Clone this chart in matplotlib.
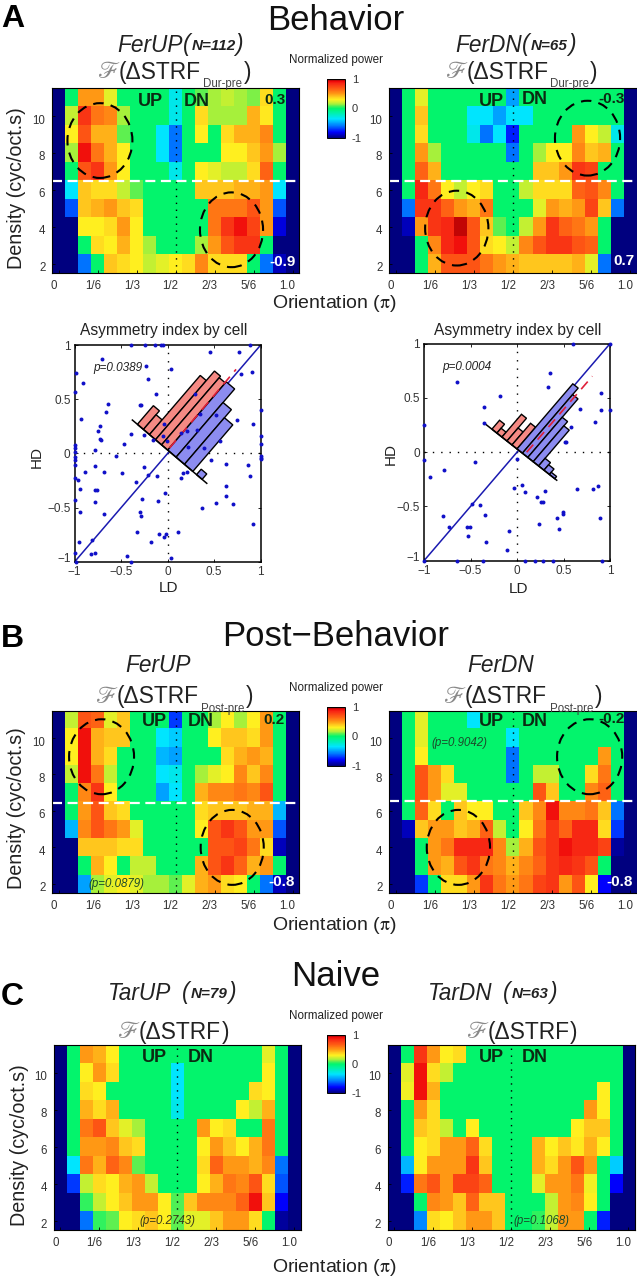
#! /usr/bin/python
# -*- coding: utf-8 -*-

import matplotlib
matplotlib.use('Agg')
import matplotlib.pyplot as plt
import numpy as np
from matplotlib.colors import LinearSegmentedColormap
from matplotlib.patches import Ellipse, Polygon
from matplotlib.transforms import ScaledTranslation

W, H = 637, 1280

plt.rcParams['font.family'] = ['Liberation Sans', 'DejaVu Sans']

# Normalized power in tenths, rows from density 11 down to density 2.
A_UP = [
    [-10, 0, 5, 5, 2.5, 0, 0, 0, 0, -3, 0, 1, 1.5, 2, 1.5, 1.2, 3.5, 0, -10],
    [-10, 2, 8, 6, 5.5, 1.5, 0, 0, 0, -3, 0, 3.5, 1.5, 1.5, 1.5, 4.5, 3.2, 0, -10],
    [-10, 3, 7, 4.5, 4.5, 1, 0, 0, -3.5, -6, 0, 3, 0, 3.5, 4.5, 4.5, 5.5, 0, -10],
    [-10, 1.5, 9, 6, 4.5, 3, 0, 0, -3.5, -6, 0, 0, 0, 3, 3, 4, 5, 1.5, -10],
    [-10, 0, 7, 8, 5, 3, 0, 0, 0, -3, 0, 3, 2.5, 2, 2, 3.5, 6.5, 0, -10],
    [-10, -3.5, 4, 3.5, 3.5, 2, 1, 0, 0, 0, 0, 4, 4, 4, 4.5, 4.5, 5, -3.5, -10],
    [-10, -6.5, 4, 4.5, 5, 4, 3.5, 0, 0, 0, 0, 0, 6, 6, 6, 7, 5, -6.5, -10],
    [-10, -10, 3, 3, 3.5, 5, 3, 0, 0, 0, 0, 0, 6, 8, 9, 7.5, 5, -8.5, -10],
    [-10, -10, 0, 3.5, 3, 4.5, 3, 1.5, 0, 0, 0, 1.5, 5, 7, 8, 8, 0, -10, -10],
    [-10, -10, -6, 0, 4, 3.5, 3, 2, 2.5, 3, 3.5, 5.5, 3.5, 3.5, 3.5, 0, -6, -9, -10],
]
A_DN = [
    [-10, 0, 2.5, 0, 0, 0, 0, 0, 0, -5, 0, 0, 0, 0, 0, 0, 0, 0, -10],
    [-10, 0, 4, 0, 0, 0, -3.5, -3.5, -5, -3.5, -3.5, 0, 0, 0, 0, 0, 0, 0, -10],
    [-10, 0, 3.5, 0, 0, 0, -3, -6, -3.5, -7.5, 0, 0, 0, 0, 5, 3, 2, -3, -10],
    [-10, 0, 5, 1.5, 0, 0, 0, 0, 0, -6, 0, 1.5, 3, 3, 5.5, 4, 4.5, 0, -10],
    [-10, 0, 6.5, 4.5, 0, 0, 0, 0, 0, 0, 0, 4, 4, 5, 8, 7.5, 0, 0, -10],
    [-10, 0, 8.5, 6, 3, 2, 3, 3.5, 0, 0, 2, 3.5, 3.5, 3.5, 6.5, 7, 5.5, 0, -10],
    [-10, -6, 8, 8, 6.5, 5, 4.5, 6, 0, 0, 0, 2.5, 5, 4.5, 5, 7.5, 4, -6, -10],
    [-10, -9, 5, 8, 8.5, 9.5, 7, 4, 1, 0, 2, 5, 8, 6.5, 6, 5, 0, -10, -10],
    [-10, -10, 0, 5.5, 8.5, 9, 7, 3.5, 3, 2, 5.5, 7, 8, 8, 7, 6.5, 0, -10, -10],
    [-10, -10, 0, 4.5, 7, 7, 7, 6, 5, 4.5, 4, 4, 4, 4, 4.5, 2.5, -6, -10, -10],
]
B_UP = [
    [-10, 2, 7, 6.5, 2.5, 4, 0, 0, 0, -7, 0, 0, 1.5, 3, 1.5, 3, 5, 0, -10],
    [-10, 3, 9, 4.5, 4, 4, 0, 0, -3.5, -4, 0, 0, 3, 4, 4, 3.5, 5, 0, -10],
    [-10, 3, 9, 4.5, 3.5, 0, 0, 0, -4.5, -5, 0, 0, 0, 3.5, 4.5, 5, 4.5, 0, -10],
    [-10, 2, 9, 6, 2, 0, 0, 0, -3.5, -3, 0, 1.5, 2.5, 3, 5.5, 4, 5.5, 0, -10],
    [-10, 0, 5.5, 8, 3, 0, 0, 0, -5, -3.5, 0, 4.5, 5.5, 5.5, 6, 5.5, 7, 0, -10],
    [-10, 0, 5, 7, 4, 3.5, 0, 0, 0, 0, 0, 3.5, 4, 4, 4, 4.5, 4.5, -4.5, -10],
    [-10, -4.5, 5.5, 7, 6, 5, 2.5, 0, 0, 0, 0, 3, 7, 8, 7, 5, 5, -6.5, -10],
    [-10, -10, 4, 4, 4, 3.5, 3.5, 0, 0, 0, 0, 0, 7, 7, 7.5, 6, 3.5, -9, -10],
    [-10, -10, 0, 4.5, 3, 0, 2, 2, 0, 0, 0, 4.5, 7, 8, 6.5, 4.5, 5, 0, -10],
    [-10, -10, -5, 1.5, 2.5, 3, 2.5, 1.5, 1.5, 1, 2.5, 4.5, 5, 3.5, 3, 0, -6, -9, -10],
]
B_DN = [
    [-10, 0, 2.5, 0, 0, 0, -3.5, 0, 0, 0, 0, 0, 0, 0, 0, 0, 0, 0, -10],
    [-10, 0, 2.5, 0, 0, 0, 0, 0, 0, -3.5, 0, 0, 0, 0, 0, 0, 0, 0, -10],
    [-10, 0, 3, 0, 0, 0, 0, 0, 0, -6, 0, 0, 0, 0, 0, 0, 5, 0, -10],
    [-10, 0, 7, 5, 3.5, 0, 0, 0, 0, -6, 0, 2, 2, 0, 0, 3.5, 6, 0, -10],
    [-10, 0, 7, 5, 2.5, 2.5, 0, 0, 0, 0, 0, 7, 4, 0, 0, 5.5, 6.5, 0, -10],
    [-10, 0, 6.5, 3.5, 0, 4, 3, 3, 0, 0, 4, 5.5, 9, 5.5, 5.5, 6, 4, -6, -10],
    [-10, -9, 4, 5, 5, 4, 4.5, 6.5, 2, 0, 3, 6, 8, 6.5, 8.5, 8.5, 3.5, -7, -10],
    [-10, -10, 0, 5, 6, 8.5, 8.5, 8.5, 5.5, 1.5, 4.5, 7, 8, 9, 8.5, 8.5, 7.5, -9.5, -10],
    [-10, -10, 0, 5, 4.5, 7, 8, 6, 5.5, 4.5, 5.5, 6.5, 8, 8.5, 8, 7, 0, -10, -10],
    [-10, -10, -7, 0, 3.5, 3.5, 5, 8, 6, 5, 6, 7.5, 8, 5, 7, 3, -8, -10, -10],
]
C_UP = [
    [-10, 0, 5, 4.5, 3, 0, 0, 0, 0, 0, 0, 0, 0, 0, 0, 0, 2.5, 0, -10],
    [-10, 0, 3, 5, 3.5, 0, 0, 0, 0, -3.5, 0, 0, 0, 0, 0, 0, 3, 0, -10],
    [-10, 0, 3.5, 3, 0, 0, 0, 0, 0, -3.5, 0, 0, 0, 0, 0, 3.5, 3, 0, -10],
    [-10, 0, 4.5, 3.5, 4.5, 0, 0, 0, 0, -3, 0, 0, 0, 0, 3, 2, 4.5, 0, -10],
    [-10, 0, 6, 7, 4, 2.5, 1.5, 0, 0, 0, 0, 5, 3, 3.5, 0, 0, 6, 0, -10],
    [-10, 0, 5, 5, 5.5, 4, 3.5, 0, 0, 0, 0, 3, 5, 4, 3, 4.5, 6, 0, -10],
    [-10, -3.5, 6, 4.5, 6.5, 5.5, 1, 0, 0, 0, 0, 3.5, 6.5, 5, 5, 4.5, 5.5, -6, -10],
    [-10, -7, 2, 3.5, 3, 4.5, 5, 2, 0, 0, 0, 3, 4.5, 6, 5.5, 7, 3.5, -6.5, -10],
    [-10, -10, 0.5, 2, 3, 4, 5, 5, 3, 0.8, 4, 5.5, 5.5, 5.5, 6.5, 9, 4, -8, -10],
    [-10, -10, -6, 0.5, 1, 3, 3.5, 4, 3, 1, 2.5, 2.5, 4, 5, 5, 3.5, 0, -9.5, -10],
]
C_DN = [
    [-10, 0, 8, 5, 3, 3.5, 0, 0, 0, 0, 0, 0, 0, 0, 0, 0, 0, 0, -10],
    [-10, 2.5, 9, 3.5, 2, 0, 0, 0, 0, 0, 0, 0, 0, 0, 0, 0, 0, 0, -10],
    [-10, 2.8, 9, 4.5, 0, 0, 0, 0, 0, 0, 0, 0, 0, 0, 0, 0, 3, 0, -10],
    [-10, 0, 5, 3.5, 0, 0, 0, 0, 0, 0, 0, 0, 0, 0, 0, 5, 3, 0, -10],
    [-10, 0, 4, 3.5, 2, 0, 3, 0, 0, 0, 0, 0, 0, 0, 3, 4, 4, 0, -10],
    [-10, 0, 3, 3.5, 5, 5, 6.5, 3.5, 0, 0, 0, 4.5, 3, 4, 3.2, 4.5, 3, 0, -10],
    [-10, -4.5, 3, 5, 5, 5, 8, 4, 0, 0, 0, 4.5, 3.5, 5, 7, 5, 0, -4, -10],
    [-10, -7.5, 6, 7, 5, 7.5, 7.5, 6.5, 0, 0, 0, 2.5, 5, 5, 6, 2.8, 0, -8, -10],
    [-10, -10, 0, 5.5, 5, 4, 6.5, 4, 4, 0, 0, 0, 2, 5, 5.5, 3, 0, -10, -10],
    [-10, -10, -5.5, 3.5, 3, 4, 5, 5, 4, 0, 0, 0.5, 2, 5, 5, 0, -7.5, -10, -10],
]

OrientTicks = [0, 1 / 6, 1 / 3, 1 / 2, 2 / 3, 5 / 6, 1]
OrientLabels = ['0', '1/6', '1/3', '1/2', '2/3', '5/6', '1.0']
DensityTicks = [2, 4, 6, 8, 10]

# Dashed circles: orientation, density, width, height.
A_UP_Circles = [(0.176, 8.67, 0.278, 4.05), (0.739, 3.84, 0.27, 4.05)]
A_DN_Circles = [(0.818, 8.8, 0.278, 4.05), (0.26, 3.93, 0.27, 4.05)]
B_UP_Circles = [(0.183, 8.97, 0.278, 4.12), (0.742, 3.99, 0.27, 4.12)]
B_DN_Circles = [(0.827, 8.97, 0.278, 4.12), (0.267, 3.99, 0.27, 4.12)]

# Asymmetry index per cell.
LD_UP = [
    -.39, -.24, -.14, -.07, -.05, .89, .45, .77, -.71, -.23, .04, -.99, -.21, -.91, .79, .91,
    -1, -.13, .29, -.64, -.30, -.29, -.66, -.93, -.04, -.73, -.75, 1, .74, .92, -.39, -.25,
    -.05, .14, .21, .31, .35, .52, -.01, -.16, -.73, -.72, -.47, -.78, -.56, -1, -1, -1, -1,
    -1, -1, 1, 1, 1, 1, 1, .22, .39, .56, .47, .63, .86, -.26, -.78, -.68, -.89, -.49, .16,
    .21, .14, -.21, -.11, .88, -1, -.96, -.34, -.94, -.78, -.76, -.28, -.10, -.03, -1, -.78,
    -.94, -.30, -.29, -.69, .37, .52, .63, .63, .70, .92, -.33, -.09, -.04, -.02, .11, -.18,
    -.95, -.81, -.44, -.82, -.78, .04, -1, -.40, -.99,
]
HD_UP = [
    1, 1, 1, 1, 1, 1, .94, .94, .87, .81, .78, .74, .69, .65, .73, .75,
    .57, .55, .55, .46, .45, .45, .38, .32, .27, .25, .21, .40, .31, .27, .18, .17,
    .16, .19, .21, .22, .36, .35, .11, .12, .13, .12, .09, .03, -.02, .08, .05, .01, -.03,
    -.06, -.11, .16, .09, -.02, -.04, -.05, .06, .05, .11, -.06, -.10, -.11, -.13, -.12, -.17, -.17, -.18, -.18,
    -.17, -.23, -.20, -.21, -.21, -.23, -.25, -.26, -.33, -.34, -.34, -.42, -.44, -.37, -.43, -.45,
    -.54, -.54, -.58, -.56, -.50, -.46, -.39, -.30, -.47, -.65, -.73, -.74, -.77, -.74, -.73, -.82,
    -.82, -.80, -.95, -.93, -.92, -.97, -.92, -1, -1,
]
LD_DN = [
    .6, 1, .35, -.65, .33, -.18, .90, -.35, .68, .90, 1, -.36, .84, -1, .58, .52, .53, -1,
    -.45, 0, -.78, -.94, -.03, .05, .09, .30, .22, .26, .28, .64, .82, .87, -.40, -.48, .49,
    .49, .43, .89, -.80, -.34, .24, .45, -.73, -.54, -.51, -.53, -.09, -.33, -.11, -1, -.65,
    -.37, .09, .19, .28, .39, .91,
]
HD_DN = [
    1, 1, .73, .65, .60, .52, .55, .42, .40, .39, .39, .27, .28, .25, .23, .09, .09, -.07,
    -.09, -.06, -.16, -.23, -.33, -.30, -.37, -.36, -.41, -.46, -.46, -.34, -.34, -.31, -.49, -.48, -.55,
    -.57, -.61, -.61, -.59, -.58, -.66, -.71, -.69, -.69, -.69, -.77, -.73, -.83, -.90, -1, -1,
    -1, -1, -1, -1, -1, -1,
]
AsymTicks = [-1, -0.5, 0, 0.5, 1]
AsymLabels = ['\u22121', '\u22120.5', '0', '0.5', '1']

# Histograms on the tilted base: start along the base, bar width, bar height.
UP_RedStart = [-.326, -.261, -.196, -.131, -.066]
UP_RedWidth = [.065, .065, .065, .065, .066]
UP_RedHeight = [.172, .136, .546, .634, .62]
UP_BlueStart = [0, .09, .18, .31]
UP_BlueWidth = [.09, .09, .09, .06]
UP_BlueHeight = [.63, .505, .43, .05]
DN_RedStart = [-.27, -.216, -.162, -.108, -.054]
DN_RedWidth = [.054, .054, .054, .054, .054]
DN_RedHeight = [.082, .045, .21, .12, .2]
DN_BlueStart = [0, .058, .116, .174, .232, .29, .348]
DN_BlueWidth = [.058, .058, .058, .058, .058, .058, .058]
DN_BlueHeight = [.6, .54, .37, .33, .07, .05, .02]

cmap = LinearSegmentedColormap.from_list('power', [
    (0.0, '#00007f'), (0.1, '#0000ff'), (0.2, '#0073ff'), (0.325, '#00e5ff'), (0.46, '#00f58c'),
    (0.5, '#00f56e'), (0.55, '#60f050'), (0.575, '#a5f03c'), (0.65, '#fff020'), (0.7, '#ffc81e'),
    (0.75, '#ff9b14'), (0.825, '#ff6414'), (0.925, '#f82814'), (0.96, '#f00a0a'), (1.0, '#7f0000'),
])


def px_axes(fig, x0, y0, x1, y1):
    return fig.add_axes([x0 / W, 1 - y1 / H, (x1 - x0) / W, (y1 - y0) / H])


def txt(fig, x, y, s, **kw):
    kw.setdefault('va', 'center')
    return fig.text(x / W, 1 - y / H, s, **kw)


def plot_map(fig, box, values, circles, split=None):
    ax = px_axes(fig, *box)
    im = ax.imshow(np.array(values) / 10.0, cmap=cmap, vmin=-1, vmax=1, aspect='auto',
                   interpolation='nearest', extent=[-0.5 / 18, 18.5 / 18, 1.5, 11.5])
    ax.axvline(0.5, color='k', linestyle=(0, (1, 4)), linewidth=1)
    if split is not None:
        ax.axhline(split, color='white', linestyle=(0, (4.5, 2.5)), linewidth=1.6)
    for cx, cy, w, h in circles:
        ax.add_patch(Ellipse((cx, cy), w, h, fill=False, edgecolor='k',
                             linewidth=1.5, linestyle=(0, (5, 3.5))))
    ax.set_xticks(OrientTicks)
    ax.set_xticklabels(OrientLabels, fontsize=8.3, color='#333333')
    ax.set_yticks(DensityTicks)
    ax.set_yticklabels([str(d) for d in DensityTicks], fontsize=8.3, color='#333333')
    ax.tick_params(direction='in', length=2, width=0.6, pad=5)
    for label in ax.get_xticklabels():
        label.set_transform(label.get_transform() + ScaledTranslation(-5 / 100, 0, fig.dpi_scale_trans))
    for label in ax.get_yticklabels():
        label.set_transform(label.get_transform() + ScaledTranslation(0, -3 / 100, fig.dpi_scale_trans))
    for spine in ax.spines.values():
        spine.set_linewidth(0.8)
    return im


def plot_bars(ax, starts, widths, heights, slope, color):
    for t, w, h in zip(starts, widths, heights):
        y0 = 0.03 - slope * t
        y1 = 0.03 - slope * (t + w)
        corners = [(t, y0), (t + w, y1), (t + w + h, y1 + h), (t + h, y0 + h)]
        ax.add_patch(Polygon(corners, facecolor=color, edgecolor='k', linewidth=1, zorder=4))


def plot_asym(fig, box, ld, hd, red, blue, slope, base, mean):
    ax = px_axes(fig, *box)
    ax.plot([-1, 1], [-1, 1], color='#1a1ab0', linewidth=1.1, zorder=2)
    ax.axvline(0, color='k', linestyle=(0, (1, 5)), linewidth=1, zorder=1)
    ax.axhline(0, color='k', linestyle=(0, (1, 5)), linewidth=1, zorder=1)
    plot_bars(ax, red[0], red[1], red[2], slope, '#f58a84')
    plot_bars(ax, blue[0], blue[1], blue[2], slope, '#8c8cf0')
    ax.plot(base, [0.03 - slope * b for b in base], color='k', linewidth=1.1, zorder=5)
    ax.plot(mean[0], mean[1], color='#e0203a', linewidth=1.2, linestyle=(0, (6, 4)), zorder=6)
    ax.scatter(ld, hd, s=8, color='#1010c8', linewidths=0, clip_on=False, zorder=7)
    ax.set_xlim(-1, 1)
    ax.set_ylim(-1, 1)
    ax.set_xticks(AsymTicks)
    ax.set_xticklabels(AsymLabels, fontsize=8.5, color='#333333')
    ax.set_yticks(AsymTicks)
    ax.set_yticklabels(AsymLabels, fontsize=8.5, color='#333333')
    ax.tick_params(direction='in', length=2, width=0.6, pad=3, top=True, right=True)
    # The lowest HD label sits a little above its tick.
    low = ax.get_yticklabels()[0]
    low.set_transform(low.get_transform() + ScaledTranslation(0, 4 / 100, fig.dpi_scale_trans))
    for spine in ax.spines.values():
        spine.set_linewidth(1.1)


def plot_colorbar(fig, im, y0, y1):
    cax = px_axes(fig, 327, y0, 345, y1)
    cb = fig.colorbar(im, cax=cax, ticks=[-1, 0, 1])
    cb.ax.set_yticklabels(['-1', '0', '1'], fontsize=8, color='#333333')
    cb.ax.tick_params(length=0, pad=5)
    cb.outline.set_linewidth(0.7)
    txt(fig, 289, y0 - 19, 'Normalized power', fontsize=8.4, color='#222222')


def cond_title(fig, x, y, name, n_x=None, n_label=None):
    txt(fig, x, y, name, fontsize=16.3, style='italic', color='#222222')
    if n_label is not None:
        txt(fig, n_x, y, '(', fontsize=16.3, style='italic', color='#222222')
        txt(fig, n_x + 9, y + 1, n_label, fontsize=11, style='italic', weight='bold', color='#222222')
        txt(fig, n_x + 22 + 6 * len(n_label), y, ')', fontsize=16.3, style='italic', color='#222222')


def delta_title(fig, x, y, sub=None, sub_x=0, close_x=0):
    txt(fig, x, y, r'$\mathscr{F}$', fontsize=17, color='#888888', math_fontfamily='stix')
    txt(fig, x + 22, y, '(\u0394STRF', fontsize=16.4, color='#222222')
    if sub is not None:
        txt(fig, x + sub_x, y + 12, sub, fontsize=8.3, color='#444444')
    txt(fig, x + close_x, y, ')', fontsize=16.4, color='#222222')


def labels_row(fig, up_x, dn_x, y):
    txt(fig, up_x, y, 'UP', fontsize=13, weight='bold', color='#0b2a12')
    txt(fig, dn_x, y, 'DN', fontsize=13, weight='bold', color='#0b2a12')


def main():
    fig = plt.figure(figsize=(W / 100, H / 100), dpi=100, facecolor='white')
    orient = r'Orientation ($\mathrm{\pi}$)'

    # Panel A
    txt(fig, 1, 19, 'A', fontsize=23, weight='bold', color='k')
    txt(fig, 336, 21, 'Behavior', fontsize=25, ha='center', color='#111111')
    cond_title(fig, 117, 45, 'FerUP', 183, 'N=112')
    cond_title(fig, 455, 45, 'FerDN', 522, 'N=65')
    delta_title(fig, 97, 72, 'Dur-pre', 106, 147)
    delta_title(fig, 445, 72, 'Dur-pre', 105, 145)
    im = plot_map(fig, (52.3, 88.3, 299, 273), A_UP, A_UP_Circles, 6.5)
    plot_map(fig, (389.3, 88.3, 636.7, 273), A_DN, A_DN_Circles, 6.5)
    plot_colorbar(fig, im, 79, 138)
    labels_row(fig, 138, 184, 102)
    txt(fig, 479, 102, 'UP', fontsize=13, weight='bold', color='#0b2a12')
    txt(fig, 522, 99, 'DN', fontsize=13, weight='bold', color='#0b2a12')
    txt(fig, 264, 100, '0.3', fontsize=11, weight='bold', color='#0b2a12')
    txt(fig, 269, 262, '-0.9', fontsize=11, weight='bold', color='white')
    txt(fig, 598, 99, '-0.3', fontsize=11, weight='bold', color='#0b2a12')
    txt(fig, 613, 261, '0.7', fontsize=11, weight='bold', color='white')
    txt(fig, 17, 188, 'Density (cyc/oct.s)', fontsize=14.2, rotation=90, ha='center', color='#222222')
    txt(fig, 334, 303, orient, fontsize=14, ha='center', color='#222222', math_fontfamily='stix')

    # Asymmetry scatters
    plot_asym(fig, (74.7, 345, 260.7, 561.7), LD_UP, HD_UP,
              (UP_RedStart, UP_RedWidth, UP_RedHeight), (UP_BlueStart, UP_BlueWidth, UP_BlueHeight),
              0.73, [-.38, .42], ([.02, .735], [.05, .775]))
    plot_asym(fig, (424, 343.7, 610, 560.7), LD_DN, HD_DN,
              (DN_RedStart, DN_RedWidth, DN_RedHeight), (DN_BlueStart, DN_BlueWidth, DN_BlueHeight),
              0.675, [-.355, .427], ([.104, .81], [0, .70]))
    txt(fig, 164, 330, 'Asymmetry index by cell', fontsize=11.2, ha='center', color='#222222')
    txt(fig, 518, 330, 'Asymmetry index by cell', fontsize=11.2, ha='center', color='#222222')
    txt(fig, 93, 368, 'p=0.0389', fontsize=8.5, style='italic', color='#222222')
    txt(fig, 442, 367, 'p=0.0004', fontsize=8.5, style='italic', color='#222222')
    txt(fig, 37, 457, 'HD', fontsize=11, rotation=90, ha='center', color='#222222')
    txt(fig, 391, 454, 'HD', fontsize=11, rotation=90, ha='center', color='#222222')
    txt(fig, 169, 588, 'LD', fontsize=11, ha='center', color='#222222')
    txt(fig, 519, 589, 'LD', fontsize=11, ha='center', color='#222222')

    # Panel B
    txt(fig, 1, 639, 'B', fontsize=23, weight='bold', color='k')
    txt(fig, 336, 636, 'Post\u2212Behavior', fontsize=25, ha='center', color='#111111')
    cond_title(fig, 125, 665, 'FerUP')
    cond_title(fig, 467, 665, 'FerDN')
    delta_title(fig, 95, 697, 'Post-pre', 106, 151)
    delta_title(fig, 443, 697, 'Post-pre', 107, 152)
    im = plot_map(fig, (52.3, 710.7, 299, 892.7), B_UP, B_UP_Circles, 6.41)
    plot_map(fig, (389.3, 710.7, 636.7, 892.7), B_DN, B_DN_Circles, 6.54)
    plot_colorbar(fig, im, 707, 765.7)
    labels_row(fig, 142, 188, 722)
    labels_row(fig, 479, 522, 722)
    txt(fig, 263, 720, '0.2', fontsize=11, weight='bold', color='#0b2a12')
    txt(fig, 268, 882, '-0.8', fontsize=11, weight='bold', color='white')
    txt(fig, 598, 719, '-0.2', fontsize=11, weight='bold', color='#0b2a12')
    txt(fig, 606, 882, '-0.8', fontsize=11, weight='bold', color='white')
    txt(fig, 88, 884, '(p=0.0879)', fontsize=8.3, style='italic', color='#1c4a2a')
    txt(fig, 431, 743, '(p=0.9042)', fontsize=8.3, style='italic', color='#1c4a2a')
    txt(fig, 17, 808, 'Density (cyc/oct.s)', fontsize=14.2, rotation=90, ha='center', color='#222222')
    txt(fig, 334, 926, orient, fontsize=14, ha='center', color='#222222', math_fontfamily='stix')

    # Panel C
    txt(fig, 1, 997, 'C', fontsize=23, weight='bold', color='k')
    txt(fig, 336, 977, 'Naive', fontsize=25, ha='center', color='#111111')
    cond_title(fig, 108, 993, 'TarUP', 182, 'N=79')
    cond_title(fig, 428, 993, 'TarDN', 503, 'N=63')
    delta_title(fig, 117, 1032, None, 0, 105)
    delta_title(fig, 466, 1032, None, 0, 104)
    im = plot_map(fig, (54, 1045, 300.7, 1230), C_UP, [])
    plot_map(fig, (387.7, 1045, 634.7, 1230), C_DN, [])
    plot_colorbar(fig, im, 1035, 1093)
    labels_row(fig, 142, 188, 1058)
    labels_row(fig, 479, 522, 1058)
    txt(fig, 139, 1221, '(p=0.2743)', fontsize=8.3, style='italic', color='#3a3a1a')
    txt(fig, 513, 1221, '(p=0.1068)', fontsize=8.3, style='italic', color='#1c4a2a')
    txt(fig, 20, 1145, 'Density (cyc/oct.s)', fontsize=14.2, rotation=90, ha='center', color='#222222')
    txt(fig, 334, 1268, orient, fontsize=14, ha='center', color='#222222', math_fontfamily='stix')

    fig.savefig('out.png', dpi=100, facecolor='white')


if __name__ == '__main__':
    main()
